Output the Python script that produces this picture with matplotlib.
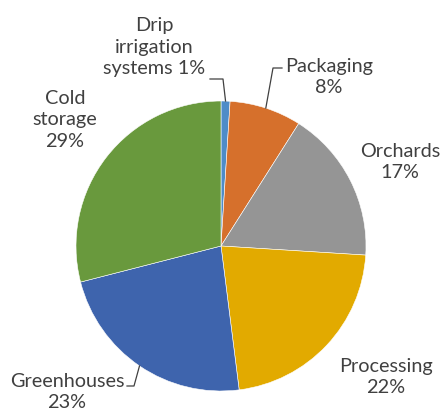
import numpy as np
import matplotlib.pyplot as plt

categories = ['Drip\nirrigation\nsystems 1%', 'Packaging\n8%', 'Orchards\n17%',
              'Processing\n22%', 'Greenhouses\n23%', 'Cold\nstorage\n29%']
shares = [1, 8, 17, 22, 23, 29]
colors = ['#4E8CC8', '#D6702C', '#959595', '#E2AA00', '#3E64AD', '#69993D']

# label centres in pixel coords of the 445x415 image
label_xy = [(154, 47), (329, 77), (400, 162), (386, 377), (67, 392), (65, 120)]
# leader lines: (elbow, end) in pixels, None if no leader
leaders = [((223, 79), (210, 79)), ((273, 68), (282, 68)), None, None,
           ((134, 386), (127, 386)), None]

W, H = 445, 415
cx, cy, r = 221, H - 246, 145

plt.rcParams['font.family'] = ['Lato', 'DejaVu Sans']
fig = plt.figure(figsize=(W / 100, H / 100), dpi=100)
ax = fig.add_axes([0, 0, 1, 1])

wedges, _ = ax.pie(shares, colors=colors, startangle=90, counterclock=False,
                   center=(cx, cy), radius=r,
                   wedgeprops=dict(edgecolor='white', linewidth=0.4))
ax.set_xlim(0, W)
ax.set_ylim(0, H)
ax.set_aspect('equal')
ax.axis('off')

for w, lab, (lx, ly), ld in zip(wedges, categories, label_xy, leaders):
    ax.text(lx, H - ly, lab, ha='center', va='center', fontsize=14.3,
            color='#404040', linespacing=1.3)
    if ld is not None:
        ang = np.deg2rad((w.theta1 + w.theta2) / 2)
        px, py = cx + r * np.cos(ang), cy + r * np.sin(ang)
        (ex, ey), (tx, ty) = ld
        ax.plot([px, ex, tx], [py, H - ey, H - ty], color='#404040', lw=0.9)

fig.savefig('out.png', dpi=100)
